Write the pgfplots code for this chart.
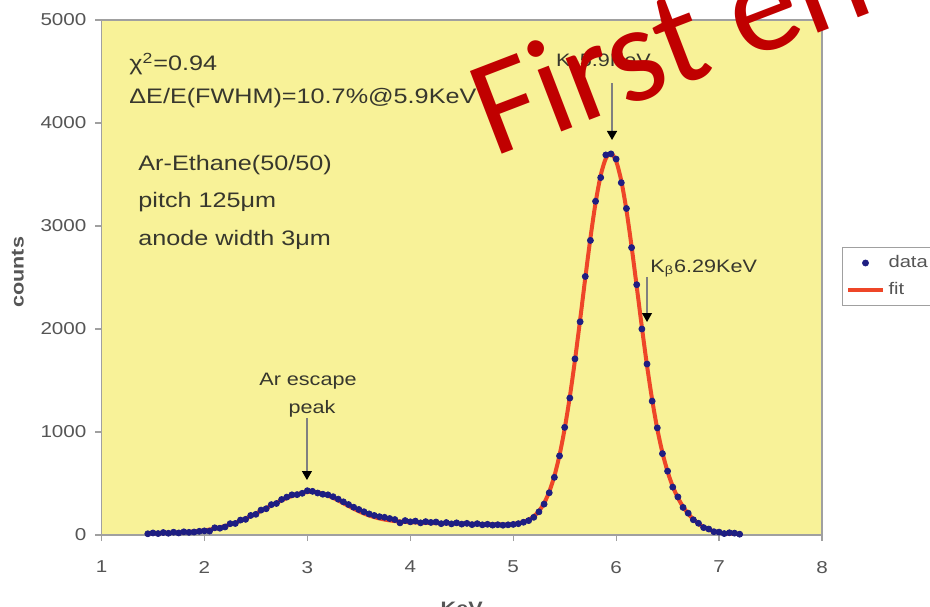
\documentclass[border=0pt]{standalone}
\usepackage{fontspec}
\setmainfont{Liberation Sans}[FakeStretch=1.2]
\newfontfamily\redfont{Carlito}
\usepackage{pgfplots}
\usepackage{pgfplotstable}
\usetikzlibrary{arrows.meta}
\pgfplotsset{compat=1.18}
\definecolor{bgyellow}{RGB}{248,242,152}
\definecolor{navy}{RGB}{30,30,130}
\definecolor{fitred}{RGB}{238,70,40}
\definecolor{bigred}{RGB}{192,0,0}
\definecolor{axgray}{RGB}{160,160,160}
\definecolor{tickgray}{RGB}{85,85,85}
\definecolor{txt}{RGB}{55,55,45}

\pgfplotstableread{
x fit data
1.45 15 12
1.50 16 20
1.55 17 14
1.60 19 24
1.65 20 17
1.70 22 27
1.75 24 20
1.80 26 31
1.85 30 26
1.90 34 29
1.95 39 36
2.00 45 40
2.05 53 38
2.10 62 70
2.15 74 66
2.20 87 78
2.25 102 110
2.30 119 112
2.35 138 145
2.40 160 152
2.45 183 190
2.50 208 201
2.55 234 242
2.60 260 255
2.65 287 295
2.70 313 306
2.75 337 345
2.80 360 368
2.85 379 390
2.90 396 392
2.95 409 405
3.00 417 430
3.05 419 424
3.10 413 408
3.15 401 396
3.20 383 390
3.25 361 372
3.30 336 348
3.35 309 322
3.40 282 296
3.45 256 270
3.50 231 248
3.55 209 226
3.60 190 205
3.65 174 190
3.70 161 178
3.75 150 172
3.80 142 160
3.85 135 150
3.90 131 118
3.95 127 140
4.00 125 128
4.05 122 135
4.10 120 118
4.15 118 130
4.20 117 122
4.25 115 126
4.30 114 110
4.35 113 121
4.40 112 108
4.45 111 118
4.50 110 106
4.55 109 113
4.60 108 101
4.65 107 110
4.70 106 99
4.75 105 104
4.80 104 96
4.85 103 100
4.90 102 95
4.95 101 99
5.00 108 103
5.05 115 110
5.10 127 124
5.15 148 140
5.20 181 172
5.25 232 225
5.30 309 300
5.35 420 410
5.40 573 560
5.45 776 768
5.50 1033 1045
5.55 1342 1330
5.60 1698 1710
5.65 2089 2070
5.70 2493 2510
5.75 2882 2860
5.80 3224 3240
5.85 3491 3470
5.90 3656 3690
5.95 3705 3700
6.00 3629 3650
6.05 3439 3420
6.10 3154 3170
6.15 2801 2790
6.20 2412 2430
6.25 2018 2000
6.30 1645 1660
6.35 1313 1300
6.40 1029 1040
6.45 799 790
6.50 615 620
6.55 472 465
6.60 361 370
6.65 275 268
6.70 207 212
6.75 153 148
6.80 110 114
6.85 77 72
6.90 53 58
6.95 36 32
7.00 23 28
7.05 16 14
7.10 13 22
7.15 12 18
7.20 11 8
}\spec

\begin{document}
\begin{tikzpicture}
\useasboundingbox (-50.75pt,-35.5pt) rectangle (414.25pt,267.5pt);
\clip (-50.75pt,-35.5pt) rectangle (414.25pt,267.5pt);
\begin{axis}[
  scale only axis, width=360.25pt, height=257.5pt,
  xmin=1, xmax=8, ymin=0, ymax=5000,
  xtick={1,2,3,4,5,6,7,8}, ytick={0,1000,2000,3000,4000,5000},
  axis background/.style={fill=bgyellow},
  axis line style={axgray, line width=0.7pt},
  tick align=outside, major tick length=3pt,
  tick style={axgray, line width=0.6pt},
  xtick pos=left, ytick pos=left,
  scaled y ticks=false,
  /pgf/number format/assume math mode=true,
  /pgf/number format/set thousands separator={},
  ticklabel style={font=\fontsize{8.6}{10}\selectfont, text=tickgray},
  xticklabel style={yshift=-6.5pt},
  yticklabel style={xshift=-1pt},
  xlabel={KeV}, ylabel={counts},
  xlabel style={at={(axis description cs:0.5,0)}, anchor=north, yshift=-33.5pt, inner sep=0pt, font=\bfseries\fontsize{9}{10}\selectfont, text=tickgray},
  ylabel style={at={(axis description cs:-0.116,0.51)}, anchor=center, inner sep=0pt, font=\bfseries\fontsize{9}{10}\selectfont, text=tickgray},
  legend style={at={(axis description cs:1.0278,0.5592)}, anchor=north west, draw=axgray, fill=white, font=\fontsize{8.4}{9.6}\selectfont, text=tickgray, row sep=2pt, inner sep=2pt},
  legend cell align=left,
  reverse legend,
  clip=false,
]
\addplot[fitred, line width=2pt, smooth] table[x=x, y=fit] {\spec};
\addlegendentry{fit\hspace*{12pt}}
\addplot[only marks, mark=*, mark size=1.5pt, navy] table[x=x, y=data] {\spec};
\addlegendentry{data\hspace*{12pt}}

\begin{scope}[every node/.style={anchor=base west, inner sep=0pt, text=txt, font=\fontsize{10.5}{12}\selectfont}]
\node at (axis cs:1.267,4505) {χ\textsuperscript{2}=0.94};
\node at (axis cs:1.267,4194) {ΔE/E(FWHM)=10.7\%@5.9KeV};
\node at (axis cs:1.355,3534) {Ar-Ethane(50/50)};
\node at (axis cs:1.355,3175) {pitch 125μm};
\node at (axis cs:1.355,2806) {anode width 3μm};
\end{scope}
\begin{scope}[every node/.style={anchor=base, inner sep=0pt, text=txt, font=\fontsize{9}{10}\selectfont}]
\node at (axis cs:3.006,1447) {Ar escape};
\node at (axis cs:3.045,1184) {peak};
\node at (axis cs:5.877,4544) {K\textsubscript{α}5.9KeV};
\node[anchor=base west] at (axis cs:6.329,2553) {K\textsubscript{β}6.29KeV};
\end{scope}
\draw[gray, line width=0.6pt, -{Triangle[color=black, length=4.5pt, width=5pt]}] (axis cs:2.996,1136) -- (axis cs:2.996,534);
\draw[gray, line width=0.6pt, -{Triangle[color=black, length=4.5pt, width=5pt]}] (axis cs:5.96,4388) -- (axis cs:5.96,3835);
\draw[gray, line width=0.6pt, -{Triangle[color=black, length=4.5pt, width=5pt]}] (axis cs:6.30,2505) -- (axis cs:6.30,2068);

\node[anchor=base west, inner sep=0pt, rotate=21, text=bigred, font=\redfont\fontsize{69}{70}\selectfont] at (axis cs:4.80,3660) {First en};
\end{axis}
\end{tikzpicture}
\end{document}
